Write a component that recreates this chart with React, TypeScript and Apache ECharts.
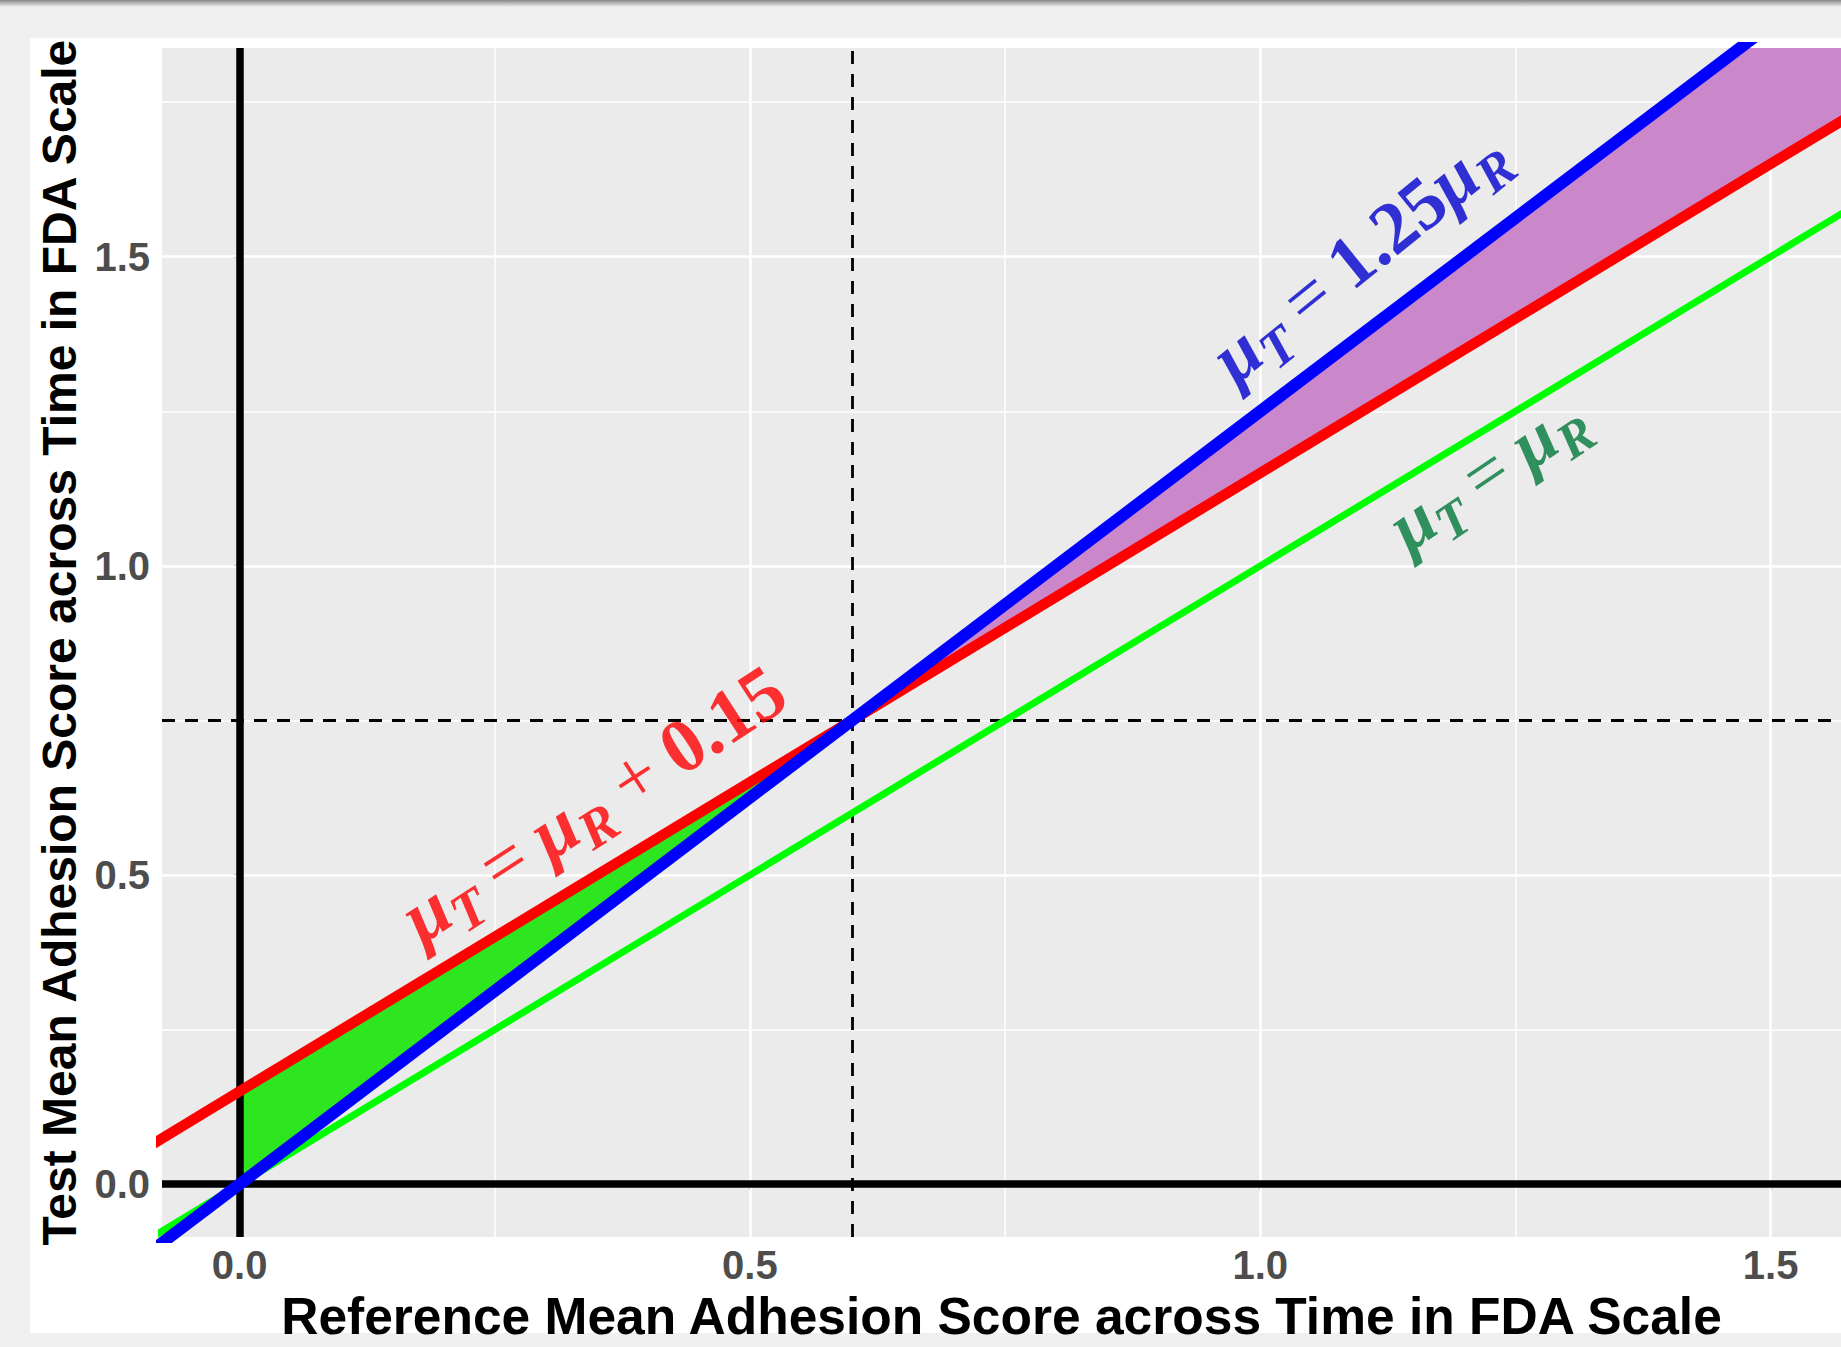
import React, { useEffect, useRef } from "react";
import * as echarts from "echarts";

// ---- axis ranges and ticks ----
const xRange = [-0.076, 1.569];
const yRange = [-0.0856, 1.8375];
const xMajorTicks = [0, 0.5, 1.0, 1.5];
const xMinorTicks = [0.25, 0.75, 1.25];
const yMajorTicks = [0, 0.5, 1.0, 1.5];
const yMinorTicks = [0.25, 0.75, 1.25, 1.75];

// ---- reference lines (endpoints beyond the axes, clipped by the grid) ----
const lineEqual = [[-0.2, -0.2], [1.8, 1.8]]; // muT = muR
const lineShift = [[-0.2, -0.05], [1.8, 1.95]]; // muT = muR + 0.15
const lineRatio = [[-0.2, -0.25], [1.8, 2.25]]; // muT = 1.25 muR

// ---- shaded regions ----
const greenRegion = [[0, 0], [0, 0.15], [0.6, 0.75]];
const purpleRegion = [[0.6, 0.75], [1.8, 2.25], [1.8, 1.95]];

// ---- crossing point and zero lines ----
const crossX = [0.6];
const crossY = [0.75];
const zeroX = [0];
const zeroY = [0];

// ---- annotation anchors (data space) ----
const annShift = [0.346, 0.616];
const annRatio = [1.096, 1.503];
const annEqual = [1.222, 1.152];

const xTitle = "Reference Mean Adhesion Score across Time in FDA Scale";
const yTitle = "Test Mean Adhesion Score across Time in FDA Scale";

const SANS = "'Liberation Sans', Arial, sans-serif";
const SERIF = "'Liberation Serif', 'DejaVu Serif', serif";

function richFor(color: string, size: number, gap: number) {
  const base = { color, fontFamily: SERIF, lineHeight: size * 1.3, verticalAlign: "middle" as const };
  return {
    mu: { ...base, fontSize: size, fontStyle: "italic", fontWeight: "bold" },
    sub: {
      color,
      fontFamily: SERIF,
      fontSize: size * 0.72,
      fontStyle: "italic",
      fontWeight: "bold",
      lineHeight: size * 0.72,
      verticalAlign: "bottom" as const,
    },
    sp: { ...base, fontSize: size, width: gap },
    op: { ...base, fontSize: size, fontWeight: "normal" },
    num: { ...base, fontSize: size, fontWeight: "bold" },
  };
}

function annotation(name: string, pt: number[], angle: number, color: string, fmt: string, size: number, gap: number) {
  return {
    name,
    type: "scatter",
    z: 10,
    symbolSize: 1,
    itemStyle: { color: "rgba(0,0,0,0)" },
    silent: true,
    data: [pt],
    label: {
      show: true,
      position: "inside",
      rotate: angle,
      align: "center",
      verticalAlign: "middle",
      formatter: fmt,
      rich: richFor(color, size, gap),
    },
  };
}

export default function App() {
  const ref = useRef<HTMLDivElement>(null);
  useEffect(() => {
    if (!ref.current) return;
    const chart = echarts.init(ref.current, null, { renderer: "svg" });
    const gridLine = (axis: "xAxis" | "yAxis", v: number, w: number) => ({
      [axis]: v,
      lineStyle: { color: "#FFFFFF", width: w, type: "solid" },
    });
    const regions = [greenRegion, purpleRegion];
    const regionColors = ["#2EE61F", "#CA88CB"];
    chart.setOption({
      animation: false,
      backgroundColor: "#F0F0F0",
      graphic: [
        { type: "rect", z: -10, shape: { x: 30, y: 38, width: 1811, height: 1295 }, style: { fill: "#FFFFFF" } },
        {
          type: "rect",
          z: -10,
          shape: { x: 0, y: 0, width: 1841, height: 7 },
          style: {
            fill: new echarts.graphic.LinearGradient(0, 0, 0, 1, [
              { offset: 0, color: "#888888" },
              { offset: 1, color: "#F0F0F0" },
            ]),
          },
        },
      ],
      grid: {
        left: 162,
        top: 48,
        right: 0,
        bottom: 108,
        show: true,
        backgroundColor: "#EBEBEB",
        borderWidth: 0,
        containLabel: false,
      },
      xAxis: {
        type: "value",
        min: xRange[0],
        max: xRange[1],
        axisLine: { show: false },
        splitLine: { show: false },
        axisTick: { show: true, length: 6, lineStyle: { color: "#333333", width: 2 }, customValues: xMajorTicks },
        axisLabel: {
          customValues: xMajorTicks,
          formatter: (v: number) => v.toFixed(1),
          fontFamily: SANS,
          fontSize: 40,
          fontWeight: "bold",
          color: "#4D4D4D",
          margin: 8,
        },
        name: xTitle,
        nameLocation: "middle",
        nameGap: 41,
        nameTextStyle: { fontFamily: SANS, fontSize: 51.5, fontWeight: "bold", color: "#000000" },
      },
      yAxis: {
        type: "value",
        min: yRange[0],
        max: yRange[1],
        axisLine: { show: false },
        splitLine: { show: false },
        axisTick: { show: true, length: 6, lineStyle: { color: "#333333", width: 2 }, customValues: yMajorTicks },
        axisLabel: {
          customValues: yMajorTicks,
          formatter: (v: number) => v.toFixed(1),
          fontFamily: SANS,
          fontSize: 40,
          fontWeight: "bold",
          color: "#4D4D4D",
          margin: 12,
        },
        name: yTitle,
        nameLocation: "middle",
        nameGap: 70,
        nameTextStyle: { fontFamily: SANS, fontSize: 48, fontWeight: "bold", color: "#000000" },
      },
      series: [
        {
          name: "grid",
          type: "line",
          z: 1,
          data: [],
          silent: true,
          markLine: {
            z: 1,
            silent: true,
            symbol: ["none", "none"],
            label: { show: false },
            data: [
              ...xMinorTicks.map((v) => gridLine("xAxis", v, 1.5)),
              ...yMinorTicks.map((v) => gridLine("yAxis", v, 1.5)),
              ...xMajorTicks.map((v) => gridLine("xAxis", v, 2.5)),
              ...yMajorTicks.map((v) => gridLine("yAxis", v, 2.5)),
            ],
          },
        },
        {
          name: "regions",
          type: "custom",
          z: 2,
          clip: true,
          silent: true,
          data: regions.map((_, i) => [i]),
          renderItem: (params: any, api: any) => {
            const idx = api.value(0);
            const pts = regions[idx].map((p) => api.coord(p));
            return { type: "polygon", shape: { points: pts }, style: { fill: regionColors[idx] } };
          },
        },
        {
          name: "refLines",
          type: "line",
          z: 3,
          data: [],
          silent: true,
          markLine: {
            z: 3,
            silent: true,
            symbol: ["none", "none"],
            label: { show: false },
            data: [
              ...zeroX.map((v) => ({ xAxis: v, lineStyle: { color: "#000000", width: 7.5, type: "solid" } })),
              ...zeroY.map((v) => ({ yAxis: v, lineStyle: { color: "#000000", width: 7.5, type: "solid" } })),
              ...crossX.map((v) => ({ xAxis: v, lineStyle: { color: "#000000", width: 2.8, type: [13, 10] } })),
              ...crossY.map((v) => ({ yAxis: v, lineStyle: { color: "#000000", width: 2.8, type: [13, 10] } })),
            ],
          },
        },
        {
          name: "muT = muR",
          type: "line",
          z: 4,
          data: lineEqual,
          showSymbol: false,
          symbol: "none",
          lineStyle: { color: "#00FF00", width: 7 },
          silent: true,
        },
        {
          name: "muT = muR + 0.15",
          type: "line",
          z: 5,
          data: lineShift,
          showSymbol: false,
          symbol: "none",
          lineStyle: { color: "#FF0000", width: 10.5 },
          silent: true,
        },
        {
          name: "muT = 1.25 muR",
          type: "line",
          z: 6,
          data: lineRatio,
          showSymbol: false,
          symbol: "none",
          lineStyle: { color: "#0000FF", width: 12 },
          silent: true,
        },
        annotation("annShift", annShift, 33, "#FF0000", "{mu|μ}{sub|T}{sp| }{op|=}{sp| }{mu|μ}{sub|R}{sp| }{op|+}{sp| }{num|0.15}", 76, 17),
        annotation("annRatio", annRatio, 39, "#0000CD", "{mu|μ}{sub|T}{sp| }{op|=}{sp| }{num|1.25}{mu|μ}{sub|R}", 74, 17),
        annotation("annEqual", annEqual, 34, "#00783A", "{mu|μ}{sub|T}{sp| }{op|=}{sp| }{mu|μ}{sub|R}", 72, 17),
      ],
    });
    return () => chart.dispose();
  }, []);
  return (
    <div
      ref={ref}
      style={{ position: "fixed", left: 0, top: 0, width: 1841, height: 1347 }}
    />
  );
}
